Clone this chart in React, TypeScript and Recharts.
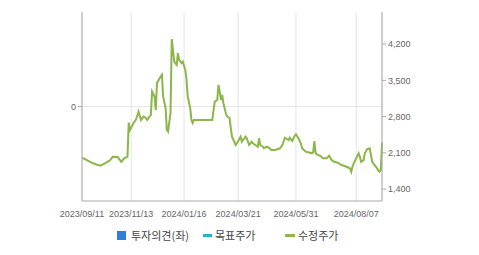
import React from 'react';
import { ComposedChart, Line, XAxis, YAxis, CartesianGrid, Legend, ReferenceLine } from 'recharts';

// trading-day index (0 = 2023/09/11) and adjusted close price (수정주가)
const dayIndex = [
  0, 4, 7, 11, 15, 19, 23, 25, 29, 32, 34, 37, 38, 39, 42, 44, 46, 48, 50, 52,
  53, 56, 57, 59, 60, 61, 64, 65, 66, 68, 69, 70, 72, 73, 75, 77, 78, 79, 81, 82,
  84, 85, 86, 88, 89, 90, 91, 106, 107, 108, 110, 111, 112, 113, 114, 115, 117, 118, 120, 121,
  122, 125, 126, 129, 130, 133, 134, 136, 138, 139, 141, 143, 144, 145, 147, 148, 150, 152, 154, 157,
  161, 163, 165, 168, 169, 171, 173, 174, 176, 178, 179, 182, 184, 187, 188, 189, 190, 191, 194, 196,
  199, 201, 203, 205, 208, 211, 213, 215, 217, 218, 219, 220, 221, 223, 225, 226, 227, 229, 230, 232,
  234, 235, 236, 238, 240, 241, 242, 243, 244,
];
const adjustedPrice = [
  2006, 1960, 1922, 1880, 1851, 1903, 1960, 2025, 2019, 1928, 1990, 2025, 2683, 2542, 2677, 2750, 2896, 2735, 2800, 2774,
  2735, 2832, 3283, 3186, 2929, 3451, 3573, 3606, 3186, 2967, 2542, 2509, 2871, 4297, 3863, 3799, 4026, 3896, 3832, 3863,
  3703, 3509, 3186, 2967, 2735, 2677, 2735, 2735, 2929, 3089, 3122, 3412, 3283, 3122, 3219, 3058, 2865, 2799, 2774, 2580,
  2412, 2251, 2284, 2412, 2315, 2412, 2381, 2251, 2315, 2284, 2251, 2218, 2381, 2251, 2218, 2188, 2218, 2199, 2155, 2155,
  2188, 2251, 2393, 2348, 2393, 2329, 2431, 2458, 2381, 2284, 2188, 2122, 2110, 2091, 2110, 2329, 2091, 2071, 2039, 1994,
  1994, 2044, 1961, 1928, 1909, 1864, 1851, 1832, 1812, 1800, 1735, 1832, 1897, 1994, 2091, 2025, 1928, 1961, 2091, 2174,
  2188, 2058, 1928, 1864, 1800, 1760, 1735, 1770, 2300,
];

const xTickIndex = [0, 40, 83, 127, 174, 223];
const xTickLabels = ['2023/09/11', '2023/11/13', '2024/01/16', '2024/03/21', '2024/05/31', '2024/08/07'];
const rightTicks = [1400, 2100, 2800, 3500, 4200];
const leftTicks = [0];

const data = dayIndex.map((d, i) => ({ d, price: adjustedPrice[i], opinion: 0 }));

const axisColor = '#aaaaaa';
const tickStyle = { fill: '#666666', fontSize: 9, fontFamily: 'Liberation Sans, Arial, sans-serif' };

const LegendContent = () => (
  <div style={{ position: 'relative', width: 479, height: 30, fontFamily: '"Noto Sans CJK KR", sans-serif', fontSize: 11, color: '#444' }}>
    <div style={{ position: 'absolute', left: 117, top: 6, width: 9, height: 9, background: '#2f7fd8' }} />
    <span style={{ position: 'absolute', left: 131, top: 1, lineHeight: '18px' }}>투자의견(좌)</span>
    <div style={{ position: 'absolute', left: 203, top: 9, width: 9, height: 3, background: '#2ab3c2' }} />
    <span style={{ position: 'absolute', left: 215, top: 1, lineHeight: '18px' }}>목표주가</span>
    <div style={{ position: 'absolute', left: 285, top: 9, width: 10, height: 3, background: '#8cb54a' }} />
    <span style={{ position: 'absolute', left: 298, top: 1, lineHeight: '18px' }}>수정주가</span>
  </div>
);

export default function App() {
  return (
    <div style={{ position: 'absolute', left: 0, top: 0, width: 479, height: 255, background: '#fff' }}>
      <ComposedChart width={479} height={255} data={data} margin={{ top: 12, right: 0, bottom: 0, left: 0 }}>
        <CartesianGrid xAxisId="main" yAxisId="left" stroke="#e6e6e6" strokeWidth={1} horizontal={false} />
        <XAxis
          xAxisId="main"
          dataKey="d"
          type="number"
          domain={[0, 244]}
          ticks={xTickIndex}
          tickFormatter={(v: number) => xTickLabels[xTickIndex.indexOf(v)] ?? ''}
          height={24}
          axisLine={{ stroke: axisColor }}
          tickLine={false}
          tick={tickStyle}
          interval={0}
          tickMargin={4}
        />
        <XAxis xAxisId="top" orientation="top" dataKey="d" type="number" domain={[0, 244]} height={0} tick={false} tickLine={false} axisLine={{ stroke: axisColor }} />
        <YAxis
          yAxisId="left"
          type="number"
          domain={[-1, 1]}
          allowDataOverflow
          ticks={leftTicks}
          width={82}
          axisLine={{ stroke: axisColor }}
          tickLine={{ stroke: axisColor }}
          tickSize={4}
          tick={tickStyle}
        />
        <YAxis
          yAxisId="right"
          orientation="right"
          domain={[1170, 4820]}
          ticks={rightTicks}
          width={97}
          axisLine={{ stroke: axisColor }}
          tickLine={{ stroke: axisColor }}
          tickSize={4}
          tick={{ ...tickStyle, textAnchor: 'start' }}
          tickFormatter={(v: number) => v.toLocaleString('en-US')}
        />
        <ReferenceLine xAxisId="main" yAxisId="left" y={0} stroke="#e6e6e6" strokeWidth={1} />
        <Legend verticalAlign="bottom" height={30} content={<LegendContent />} wrapperStyle={{ left: 0, width: 479, height: 30 }} />
        <Line
          xAxisId="main"
          yAxisId="left"
          dataKey="opinion"
          stroke="none"
          dot={false}
          activeDot={false}
          legendType="none"
          isAnimationActive={false}
        />
        <Line
          xAxisId="main"
          yAxisId="right"
          type="linear"
          dataKey="price"
          stroke="#8cb54a"
          strokeWidth={2}
          dot={false}
          isAnimationActive={false}
        />
      </ComposedChart>
    </div>
  );
}
